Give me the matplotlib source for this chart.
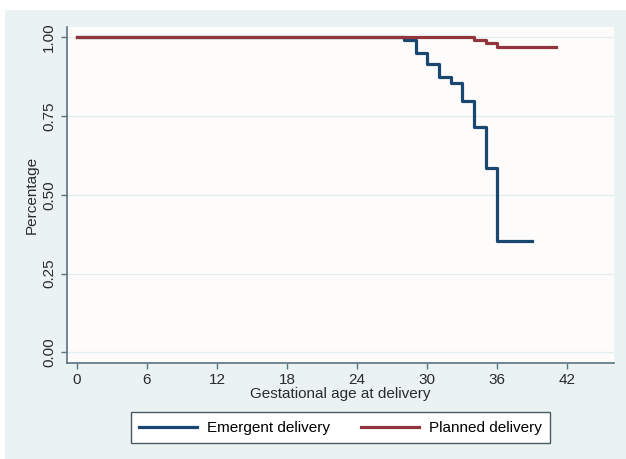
import matplotlib.pyplot as plt
from matplotlib.patches import Rectangle

plt.rcParams['font.family'] = ['Liberation Sans', 'DejaVu Sans']

# Kaplan-Meier style step data
emergent_t = [0, 28, 29, 30, 31, 32, 33, 34, 35, 36, 39]
emergent_s = [1.0, 0.992, 0.949, 0.915, 0.873, 0.854, 0.799, 0.714, 0.586, 0.353, 0.353]
planned_t = [0, 34, 35, 36, 41]
planned_s = [1.0, 0.992, 0.983, 0.970, 0.970]

x_ticks = [0, 6, 12, 18, 24, 30, 36, 42]
y_ticks = [0.0, 0.25, 0.5, 0.75, 1.0]
y_labels = ['0.00', '0.25', '0.50', '0.75', '1.00']

blue = '#1a476f'
red = '#90353b'
axis_col = '#5a7480'

fig = plt.figure(figsize=(6.26, 4.59), dpi=100)
fig.patch.set_facecolor('white')
# outer light blue panel
fig.patches.append(Rectangle((5 / 626, 0), 1, 449 / 459, transform=fig.transFigure,
                             facecolor='#eaf2f3', edgecolor='none', zorder=-10))

ax = fig.add_axes([67 / 626, 96 / 459, 547 / 626, 336 / 459])
ax.set_facecolor('#fdfcfb')

ax.step(emergent_t, emergent_s, where='post', color=blue, lw=2.3, label='Emergent delivery', zorder=3)
ax.step(planned_t, planned_s, where='post', color=red, lw=2.3, label='Planned delivery', zorder=4)

ax.set_xlim(-0.85, 46.0)
ax.set_ylim(-0.034, 1.033)
ax.set_xticks(x_ticks)
ax.set_yticks(y_ticks)
ax.set_yticklabels(y_labels, rotation=90, va='center')
ax.yaxis.grid(True, color='#e4eef1', lw=1.0)
ax.set_axisbelow(True)

for s in ['top', 'right']:
    ax.spines[s].set_visible(False)
for s in ['left', 'bottom']:
    ax.spines[s].set_color(axis_col)
    ax.spines[s].set_linewidth(1.2)
ax.tick_params(colors=axis_col, labelcolor='#2b2b2b', labelsize=11, length=4, width=1)
ax.tick_params(axis='y', pad=4)

ax.set_xlabel('Gestational age at delivery', fontsize=11, color='#2b2b2b', labelpad=0)
ax.set_ylabel('Percentage', fontsize=11, color='#2b2b2b', labelpad=2)

leg = ax.legend(loc='center', bbox_to_anchor=(0.5, -0.193), ncol=2, frameon=True,
                fancybox=False, fontsize=11, handlelength=3.8, columnspacing=2.0,
                borderpad=0.55, handletextpad=0.65)
leg.get_frame().set_edgecolor('#4a5a60')
leg.get_frame().set_linewidth(1.0)
leg.get_frame().set_facecolor('white')
leg.get_frame().set_alpha(1)

fig.savefig('out.png', dpi=100)
